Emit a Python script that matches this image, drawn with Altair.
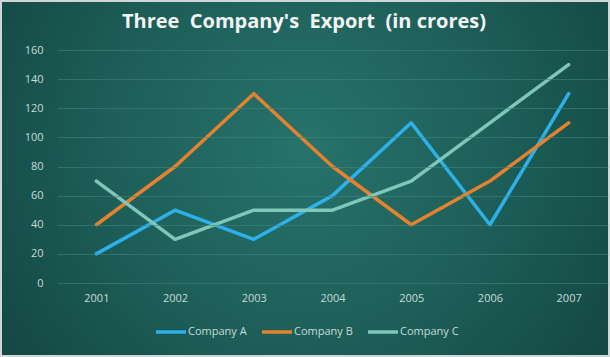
import altair as alt
import pandas as pd

years = ["2001", "2002", "2003", "2004", "2005", "2006", "2007"]
company_a = [20, 50, 30, 60, 110, 40, 130]
company_b = [40, 80, 130, 80, 40, 70, 110]
company_c = [70, 30, 50, 50, 70, 110, 150]
series_names = ["Company A", "Company B", "Company C"]
series_colors = ["#2eb0e8", "#e5822f", "#80c6bb"]
title_text = "Three\u00a0 Company's\u00a0 Export\u00a0 (in crores)"

rows = []
for name, vals in zip(series_names, [company_a, company_b, company_c]):
    for y, v in zip(years, vals):
        rows.append({"Year": y, "Export": v, "Company": name})
df = pd.DataFrame(rows)

W, H = 551, 233
PL, PT, PR, PB = 57, 50, 2, 74

one = pd.DataFrame({"t": [title_text]})

bg = alt.Chart(one).mark_rect(
    fill=alt.RadialGradient(
        gradient="radial", x1=0.5, y1=0.45, r1=0, x2=0.5, y2=0.45, r2=0.75,
        stops=[alt.GradientStop(color="#27736c", offset=0),
               alt.GradientStop(color="#1d5d57", offset=0.45),
               alt.GradientStop(color="#0e3b39", offset=1)]),
    stroke="#cfd6d5", strokeWidth=2
).encode(
    x=alt.value(-PL + 1), x2=alt.value(W + PR - 1),
    y=alt.value(-PT + 1), y2=alt.value(H + PB - 1)
)

title = alt.Chart(one).mark_text(
    fontSize=20, font="Open Sans", fontWeight="bold", color="#f2f5f4",
    align="center", baseline="middle"
).encode(text="t:N", x=alt.value(304 - PL), y=alt.value(22 - PT))

lines = alt.Chart(df).mark_line(strokeWidth=3.5, strokeCap="round", strokeJoin="round").encode(
    x=alt.X("Year:N", sort=years, title=None,
            scale=alt.Scale(type="point", padding=0.5),
            axis=alt.Axis(labelAngle=0, domain=False, ticks=False, grid=False, zindex=1,
                          labelColor="#c6dcd8", labelFontSize=11, labelFont="Open Sans",
                          labelPadding=9)),
    y=alt.Y("Export:Q", title=None,
            scale=alt.Scale(domain=[0, 160], nice=False),
            axis=alt.Axis(values=list(range(0, 161, 20)), domain=False, ticks=False, zindex=1,
                          gridColor="#3f847c", gridWidth=1, gridOpacity=0.6,
                          labelColor="#c6dcd8", labelFontSize=11, labelFont="Open Sans",
                          labelPadding=14)),
    color=alt.Color("Company:N", title=None,
                    scale=alt.Scale(domain=series_names, range=series_colors),
                    legend=alt.Legend(orient="none", legendX=97, legendY=265,
                                      direction="horizontal", symbolType="stroke",
                                      symbolSize=900, symbolStrokeWidth=3.5,
                                      labelColor="#c6dcd8", labelFontSize=11,
                                      labelFont="Open Sans", columnPadding=8,
                                      labelOffset=0))
)

chart = alt.layer(bg, title, lines).properties(
    width=W, height=H,
    padding={"left": PL, "top": PT, "right": PR, "bottom": PB},
    autosize=alt.AutoSizeParams(type="none"),
    background="#0f3e3c",
).configure_view(stroke=None)

chart.save("out.html", embed_options={"renderer": "svg", "actions": False})
